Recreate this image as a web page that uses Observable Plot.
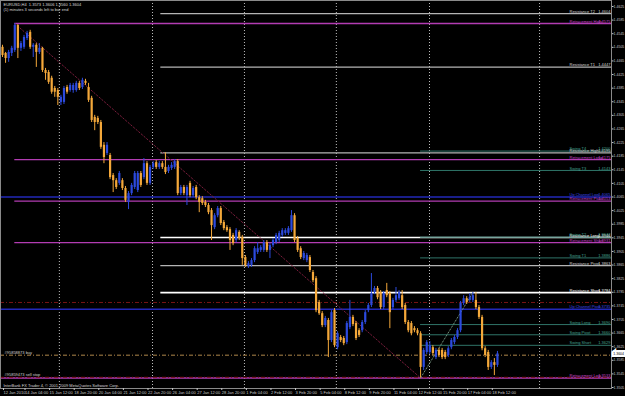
<!DOCTYPE html>
<html><head><meta charset="utf-8">
<script src="https://cdn.jsdelivr.net/npm/d3@7"></script>
<script src="https://cdn.jsdelivr.net/npm/@observablehq/plot@0.6"></script>
<style>
html,body{margin:0;padding:0;background:#000;}
#chart{width:625px;height:396px;overflow:hidden;}
</style></head><body><div id="chart"></div>
<script>
// ---- Candles (EURUSD H4), prices in pips (x 1e-4) ----
const opens = [14505,14487,14472,14487,14496,14569,14502,14505,14531,14549,
14505,14511,14490,14502,14437,14431,14414,14384,14378,14343,
14343,14387,14378,14378,14378,14399,14387,14405,14387,14355,
14299,14296,14284,14217,14193,14187,14128,14113,14105,14113,
14090,14049,14075,14093,14084,14134,14122,14163,14105,14152,
14166,14152,14163,14152,14140,14149,14152,14169,14075,14093,
14069,14105,14069,14093,14063,14060,14049,14040,14025,13975,
14010,14031,13990,13975,13969,13952,13937,13961,13946,13887,
13861,13864,13878,13902,13908,13908,13931,13908,13922,13931,
13937,13952,13958,13958,13966,14010,13943,13913,13884,13878,
13887,13843,13825,13755,13722,13687,13702,13643,13731,13622,
13652,13649,13637,13681,13711,13693,13672,13672,13696,13731,
13746,13784,13796,13784,13740,13790,13781,13740,13761,13766,
13775,13746,13696,13693,13678,13672,13663,13564,13608,13608,
13622,13593,13614,13614,13608,13599,13622,13637,13652,13672,
13752,13766,13761,13761,13761,13740,13711,13619,13608,13564,
13578,13570];
const highs = [14511,14490,14496,14508,14575,14572,14522,14540,14552,14555,
14516,14516,14516,14505,14443,14437,14420,14390,14384,14364,
14390,14393,14399,14399,14405,14405,14414,14411,14399,14361,
14305,14302,14290,14225,14225,14193,14134,14119,14140,14119,
14096,14081,14105,14140,14140,14140,14178,14169,14158,14169,
14172,14169,14169,14195,14158,14166,14175,14175,14099,14099,
14099,14111,14096,14099,14069,14066,14055,14046,14031,14016,
14037,14037,13996,13981,13975,13958,13972,13966,13952,13893,
13875,13884,13919,13931,13922,13937,13937,13928,13943,13958,
13964,13972,13972,13978,14025,14016,13949,13919,13905,13899,
13893,13849,13831,13761,13728,13714,13708,13731,13737,13669,
13658,13655,13699,13761,13717,13699,13678,13702,13731,13752,
13840,13802,13802,13790,13787,13811,13787,13767,13799,13790,
13790,13752,13702,13699,13684,13678,13669,13620,13643,13640,
13628,13620,13620,13620,13614,13625,13649,13658,13678,13758,
13775,13772,13781,13784,13784,13746,13717,13625,13614,13584,
13590,13611];
const lows = [14475,14458,14461,14478,14490,14472,14493,14499,14525,14499,
14475,14446,14484,14431,14408,14396,14367,14358,14334,14334,
14337,14367,14373,14370,14373,14378,14381,14393,14343,14284,
14260,14278,14205,14163,14187,14116,14078,14087,14099,14084,
14049,14028,14069,14087,14078,14093,14116,14099,14099,14146,
14146,14146,14146,14131,14134,14143,14146,14069,14069,14069,
14040,14063,14063,14057,14019,14040,14034,14013,13937,13969,
14004,13981,13966,13961,13908,13922,13931,13937,13864,13858,
13855,13858,13872,13896,13902,13902,13902,13884,13916,13925,
13931,13946,13952,13952,13961,13931,13902,13881,13878,13872,
13843,13813,13725,13717,13681,13681,13593,13637,13622,13616,
13637,13628,13631,13675,13684,13643,13652,13666,13690,13725,
13740,13778,13763,13734,13734,13769,13678,13734,13755,13761,
13734,13690,13666,13657,13666,13657,13533,13555,13602,13602,
13599,13587,13593,13587,13587,13593,13616,13631,13646,13666,
13746,13749,13755,13755,13734,13705,13613,13593,13555,13558,
13540,13564];
const closes = [14481,14472,14490,14502,14569,14502,14516,14534,14546,14505,
14511,14490,14502,14437,14428,14402,14373,14373,14358,14358,
14384,14373,14393,14393,14399,14384,14408,14399,14349,14290,
14284,14284,14211,14181,14217,14122,14113,14093,14134,14090,
14055,14075,14099,14134,14134,14099,14163,14105,14152,14163,
14152,14163,14152,14137,14152,14158,14169,14075,14093,14075,
14093,14069,14090,14063,14049,14046,14040,14019,13981,14010,
14031,13987,13972,13966,13937,13928,13966,13943,13884,13864,
13869,13878,13913,13913,13916,13931,13908,13922,13937,13952,
13958,13966,13966,13972,14010,13937,13908,13887,13899,13893,
13849,13819,13731,13722,13687,13708,13643,13725,13628,13663,
13643,13634,13693,13711,13690,13649,13658,13696,13725,13746,
13781,13796,13769,13740,13781,13775,13725,13761,13775,13784,
13740,13696,13672,13663,13672,13663,13564,13614,13637,13628,
13605,13614,13599,13593,13593,13619,13643,13652,13672,13752,
13766,13755,13769,13775,13740,13711,13619,13599,13564,13578,
13570,13604];

// ---- Axes ----
const priceTicks = [1.4625,1.4585,1.4545,1.4505,1.4465,1.4425,1.4385,1.4345,1.4305,1.4265,
1.4225,1.4185,1.4145,1.4105,1.4065,1.4025,1.3985,1.3945,1.3905,1.3865,1.3825,1.3785,
1.3745,1.3705,1.3665,1.3625,1.3585,1.3545,1.3505];
const dateBars = [0,7,15,23,31,39,47,55,63,71,79,87,95,103,111,119,127,135,143,151,159];
const dateLabels = ["12 Jan 2010","14 Jan 04:00","15 Jan 12:00","18 Jan 20:00","20 Jan 04:00",
"21 Jan 12:00","22 Jan 20:00","26 Jan 04:00","27 Jan 12:00","28 Jan 20:00","1 Feb 04:00",
"2 Feb 12:00","3 Feb 20:00","5 Feb 04:00","8 Feb 12:00","9 Feb 20:00","11 Feb 04:00",
"12 Feb 12:00","15 Feb 20:00","17 Feb 04:00","18 Feb 12:00"];
const gridBars = [18.5, 48.8, 78.7, 108.6, 138.9, 174.7];

// ---- Indicator levels ----
const retracementNames = ["Retracement High","Retracement Long","Retracement Pivot","Retracement Short","Retracement Low"];
const retracementValues = [1.4575,1.4175,1.4053,1.3931,1.3533];
const resistanceNames = ["Resistance T2","Resistance T1","Resistance High","Resistance Long","Resistance Pivot","Resistance Short"];
const resistanceValues = [1.4604,1.4447,1.4195,1.3946,1.3863,1.3784];
const resistanceBright = [false,false,false,true,false,true];
const resistanceStartBar = 51.5;
const swingNames = ["Swing T4","Swing T3","Swing T2","Swing T1","Swing Long","Swing Pivot","Swing Short"];
const swingValues = [1.4200,1.4143,1.3947,1.3886,1.3690,1.3660,1.3629];
const channelNames = ["Up Channel Low","Up Channel Pivot"];
const channelValues = [1.4065,1.3735];
const orderNames = ["#95858873 buy","#95859473 sell stop"];
const orderValues = [1.3600,1.3535];
const stopValue = 1.3755;
const header = ["EURUSD,H4  1.3573 1.3606 1.3560 1.3604","(1) minutes 3 seconds left to bar end"];
const copyright = "InterBank FX Trader 4, \u00a9 2001-2009 MetaQuotes Software Corp.";

// ---- build ----
const candles = opens.map((o,i)=>({i, o:o/1e4, h:highs[i]/1e4, l:lows[i]/1e4, c:closes[i]/1e4}));
const XMIN = -0.65, XEND = 198.1;
const BULL = "#2c4ade", BEAR = "#f4a83a";
const hiIdx = d3.maxIndex(candles, d=>d.h);
const loIdx = d3.minIndex(candles, d=>d.l);
const rebIdx = loIdx + d3.maxIndex(candles.slice(loIdx, loIdx+20), d=>d.h);
const hi = candles[hiIdx], lo = candles[loIdx], reb = candles[rebIdx];

const retr = retracementNames.map((n,k)=>({n, v:retracementValues[k], x1:hiIdx}));
retr[4].x1 = XMIN;
const res = resistanceNames.map((n,k)=>({n, v:resistanceValues[k], x1:resistanceStartBar, bright:resistanceBright[k]}));
const swing = swingNames.map((n,k)=>({n, v:swingValues[k], x1:loIdx}));
const chan = channelNames.map((n,k)=>({n, v:channelValues[k], x1:XMIN}));
const orders = orderNames.map((n,k)=>({n, v:orderValues[k]}));
const last = candles[candles.length-1];

const MAG = "#b23cb2", GREY = "#b4b4b4", WHITE = "#ffffff", TEAL = "#2f7468", BLUE = "#2228b8";
const FONT = "Liberation Sans, Arial, sans-serif";
const fmt = v => v.toFixed(4);
const lab = (data, color) => [
  Plot.text(data, {x: XEND, y:"v", text:"n", textAnchor:"start", dx:-42, dy:-2.2, fontSize:4, fill: color, fontFamily:FONT}),
  Plot.text(data, {x: XEND, y:"v", text: d=>fmt(d.v), textAnchor:"end", dx:-1, dy:-2.2, fontSize:4, fill: color, fontFamily:FONT})
];

const chart = Plot.plot({
  width: 625, height: 396,
  marginLeft: 0, marginRight: 14, marginTop: 0, marginBottom: 8,
  style: {background:"#000", color:"#c8c8c8", fontFamily:FONT},
  x: {domain:[XMIN, XEND], range:[0,611], axis:null},
  y: {domain:[1.4625,1.3505], range:[6,387], axis:null},
  marks: [
    Plot.ruleX(gridBars, {stroke:"#bdbdbd", strokeDasharray:"1,2", strokeWidth:1}),
    Plot.ruleY(retr, {y:"v", x1:"x1", x2:XEND, stroke:MAG, strokeWidth:1.3}),
    Plot.ruleY(res, {y:"v", x1:"x1", x2:XEND, stroke: d=>d.bright?WHITE:GREY, strokeWidth: d=>d.bright?1.6:1.3}),
    Plot.ruleY(swing, {y:"v", x1:"x1", x2:XEND, stroke:TEAL, strokeWidth:1}),
    Plot.ruleY(chan, {y:"v", x1:"x1", x2:XEND, stroke:BLUE, strokeWidth:1.5}),
    Plot.ruleY([orderValues[0]], {x1:XMIN, x2:XEND, stroke:"#b0884a", strokeDasharray:"4,2,1,2", strokeWidth:1}),
    Plot.ruleY([orderValues[1]], {x1:XMIN, x2:XEND, stroke:"#7a1414", strokeDasharray:"4,2,1,2", strokeWidth:1}),
    Plot.ruleY([stopValue], {x1:XMIN, x2:XEND, stroke:"#7a1414", strokeDasharray:"4,2,1,2", strokeWidth:1}),
    Plot.line([hi, lo], {x:"i", y:d=>d===hi?d.h:d.l, stroke:"#7a1d3c", strokeDasharray:"1.5,2", strokeWidth:1}),
    Plot.line([lo, reb], {x:"i", y:d=>d===lo?d.l:d.h, stroke:"#6f8f7a", strokeDasharray:"1.5,2", strokeWidth:1}),
    Plot.ruleX(candles, {x:"i", y1:"l", y2:"h", stroke: d=>d.c>=d.o?BULL:BEAR, strokeWidth:1}),
    Plot.ruleX(candles, {x:"i", y1:"o", y2: d=> Math.abs(d.c-d.o)<0.00005 ? d.o+0.00006 : d.c, stroke: d=>d.c>=d.o?BULL:BEAR, strokeWidth:2.2}),
    ...lab(retr, "#c845c8"),
    ...lab(res, d=>d.bright?WHITE:"#d8d8d8"),
    ...lab(swing, "#44a08e"),
    ...lab(chan, "#3d48e6"),
    Plot.text(orders, {x:XMIN, y:"v", text:"n", textAnchor:"start", dx:4, dy:-2.2, fontSize:4, fill:"#d0d0d0"}),
    Plot.text([header.join("\n")], {frameAnchor:"top-left", dx:3, dy:1.5, lineAnchor:"top", fontSize:4, fill:"#d8d8d8", lineHeight:1.3}),
    Plot.text([copyright], {frameAnchor:"bottom-left", dx:3, dy:-1.5, lineAnchor:"bottom", fontSize:4, fill:"#d8d8d8"}),
    Plot.frame({stroke:"#8a8a8a", strokeWidth:1}),
    Plot.axisY(priceTicks, {anchor:"right", tickSize:1.5, tickPadding:0.6, fontSize:3.5, tickFormat:fmt, color:"#c8c8c8"}),
    Plot.axisX(dateBars, {anchor:"bottom", tickSize:2, tickPadding:1, fontSize:4, textAnchor:"start", dx:1,
      tickFormat: d=>dateLabels[dateBars.indexOf(d)], color:"#c8c8c8", label:null}),
    Plot.text([last], {x:XEND, y:"c", text:d=>fmt(d.c), textAnchor:"start", dx:1.8, fontSize:3.5, fill:"#000",
      stroke:"#fff", strokeWidth:4, strokeLinejoin:"miter", paintOrder:"stroke"})
  ]
});
document.getElementById("chart").appendChild(chart);
</script></body></html>
